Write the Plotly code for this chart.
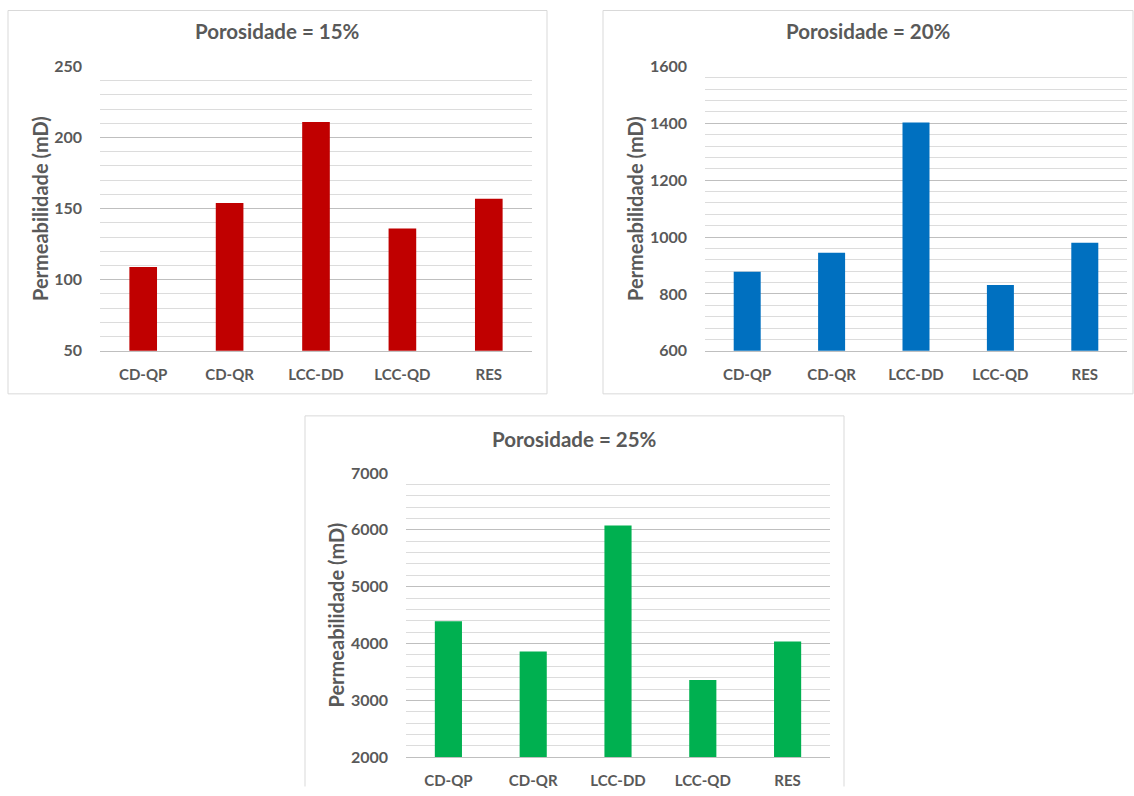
import plotly.graph_objects as go

# data
categorias = ["CD-QP", "CD-QR", "LCC-DD", "LCC-QD", "RES"]
perm_15 = [109, 154, 211, 136, 157]
perm_20 = [878, 945, 1403, 831, 980]
perm_25 = [4390, 3860, 6075, 3360, 4035]

titulos = ["Porosidade = 15%", "Porosidade = 20%", "Porosidade = 25%"]
cores = ["#C00000", "#0070C0", "#00B050"]

W, H = 1134, 796
FONT = "Lato"
TXT = "#595959"

# the captured page comes out a bit squeezed vertically, so target
# positions are mapped back before use
Y_OFF, Y_SC = 9.6, 0.975


def px_x(x):
    return x / W


def px_y(y):
    fy = (y - Y_OFF) / Y_SC
    fy = min(max(fy, 0.5), H - 0.5)
    return 1 - fy / H


# panel boxes and plot areas in reference pixels (x0, y0, x1, y1)
paineis = [
    dict(box=(8, 8, 547, 393), area=(100, 66, 532, 350), rng=[50, 250], dt=50, mdt=10),
    dict(box=(603, 8, 1133, 393), area=(705, 66, 1127, 350), rng=[600, 1600], dt=200, mdt=40),
    dict(box=(305, 415, 844, 800), area=(406, 472, 830, 756), rng=[2000, 7000], dt=1000, mdt=200),
]
series = [perm_15, perm_20, perm_25]

fig = go.Figure()
shapes = []
annotations = []

for i, (p, vals) in enumerate(zip(paineis, series)):
    n = "" if i == 0 else str(i + 1)
    fig.add_trace(
        go.Bar(
            x=categorias,
            y=vals,
            marker_color=cores[i],
            marker_line_width=0,
            xaxis="x" + n,
            yaxis="y" + n,
            showlegend=False,
        )
    )
    x0, y0, x1, y1 = p["area"]
    fig.update_layout(
        {
            "xaxis" + n: dict(
                domain=[px_x(x0), px_x(x1)],
                anchor="y" + n,
                showline=True,
                linecolor="#bfbfbf",
                linewidth=1,
                ticks="",
                ticklabelstandoff=10,
                tickfont=dict(family=FONT, size=15, color=TXT, weight="bold"),
                fixedrange=True,
            ),
            "yaxis" + n: dict(
                domain=[px_y(y1), px_y(y0)],
                anchor="x" + n,
                range=p["rng"],
                dtick=p["dt"],
                tick0=p["rng"][0],
                showgrid=True,
                gridcolor="#bfbfbf",
                gridwidth=1,
                zeroline=False,
                minor=dict(dtick=p["mdt"], showgrid=True, gridcolor="#dcdcdc", gridwidth=1),
                ticks="",
                ticklabelstandoff=17,
                tickfont=dict(family=FONT, size=16, color=TXT, weight="bold"),
                title=dict(
                    text="Permeabilidade (mD)",
                    font=dict(family=FONT, size=20, color=TXT, weight="bold"),
                    standoff=0,
                ),
                fixedrange=True,
            ),
        }
    )
    # light frame round each chart (bottom one runs off the page, so no bottom edge)
    bx0, by0, bx1, by1 = p["box"]
    fx0, fx1, fy0, fy1 = px_x(bx0), px_x(bx1), px_y(by0), px_y(by1)
    if i < 2:
        path = f"M {fx0},{fy1} L {fx0},{fy0} L {fx1},{fy0} L {fx1},{fy1} Z"
    else:
        path = f"M {fx0},{fy1} L {fx0},{fy0} L {fx1},{fy0} L {fx1},{fy1}"
    shapes.append(
        dict(
            type="path",
            xref="paper",
            yref="paper",
            path=path,
            line=dict(color="#d9d9d9", width=1),
            layer="below",
        )
    )
    annotations.append(
        dict(
            text=titulos[i],
            xref="paper",
            yref="paper",
            x=px_x((bx0 + bx1) / 2),
            y=px_y(by0 + 23),
            xanchor="center",
            yanchor="middle",
            showarrow=False,
            font=dict(family=FONT, size=20.5, color=TXT, weight="bold"),
        )
    )

fig.update_layout(
    width=W,
    height=H,
    margin=dict(l=0, r=0, t=0, b=0),
    paper_bgcolor="white",
    plot_bgcolor="white",
    bargap=0.68,
    shapes=shapes,
    annotations=annotations,
)

# drop the page's default body margin so the figure fills the window
fig.write_html(
    "out.html",
    config={"displayModeBar": False},
    post_script="document.body.style.margin = '0';",
)
